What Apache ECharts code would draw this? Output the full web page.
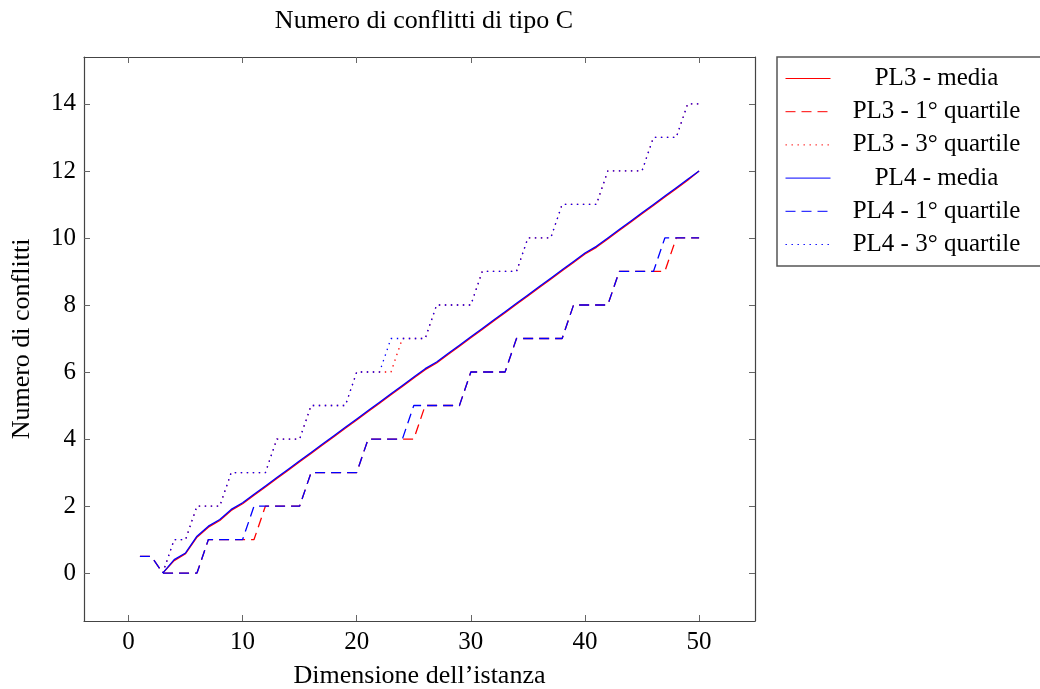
<!DOCTYPE html>
<html>
<head>
<meta charset="utf-8">
<script src="https://cdn.jsdelivr.net/npm/echarts@6/dist/echarts.min.js"></script>
<style>html,body{margin:0;padding:0;background:#fff;}#c{width:1040px;height:689px;}</style>
</head>
<body>
<div id="c"></div>
<script>
const xValues = [1,2,3,4,5,6,7,8,9,10,11,12,13,14,15,16,17,18,19,20,21,22,23,24,25,26,27,28,29,30,31,32,33,34,35,36,37,38,39,40,41,42,43,44,45,46,47,48,49,50];
const pl3Media = [null,null,0,0.37,0.58,1.07,1.37,1.57,1.87,2.07,2.32,2.57,2.82,3.07,3.32,3.57,3.82,4.07,4.32,4.57,4.82,5.07,5.32,5.57,5.82,6.07,6.27,6.52,6.77,7.02,7.27,7.52,7.77,8.02,8.27,8.52,8.77,9.02,9.27,9.52,9.72,9.97,10.22,10.47,10.72,10.97,11.22,11.47,11.72,12.0];
const pl3Q1 = [0.5,0.5,0,0,0,0,1,1,1,1,1,2,2,2,2,3,3,3,3,3,4,4,4,4,4,5,5,5,5,6,6,6,6,7,7,7,7,7,8,8,8,8,9,9,9,9,9,10,10,10];
const pl3Q3 = [null,null,0,1,1,2,2,2,3,3,3,3,4,4,4,5,5,5,5,6,6,6,6,7,7,7,8,8,8,8,9,9,9,9,10,10,10,11,11,11,11,12,12,12,12,13,13,13,14,14];
const pl4Media = [null,null,0,0.4,0.6,1.1,1.4,1.6,1.9,2.1,2.35,2.6,2.85,3.1,3.35,3.6,3.85,4.1,4.35,4.6,4.85,5.1,5.35,5.6,5.85,6.1,6.3,6.55,6.8,7.05,7.3,7.55,7.8,8.05,8.3,8.55,8.8,9.05,9.3,9.55,9.75,10.0,10.25,10.5,10.75,11.0,11.25,11.5,11.75,12.0];
const pl4Q1 = [0.5,0.5,0,0,0,0,1,1,1,1,2,2,2,2,2,3,3,3,3,3,4,4,4,4,5,5,5,5,5,6,6,6,6,7,7,7,7,7,8,8,8,8,9,9,9,9,10,10,10,10];
const pl4Q3 = [null,null,0,1,1,2,2,2,3,3,3,3,4,4,4,5,5,5,5,6,6,6,7,7,7,7,8,8,8,8,9,9,9,9,10,10,10,11,11,11,11,12,12,12,12,13,13,13,14,14];
const xTicks = [0,10,20,30,40,50];
const yTicks = [0,2,4,6,8,10,12,14];
const seriesNames = ['PL3 - media','PL3 - 1° quartile','PL3 - 3° quartile','PL4 - media','PL4 - 1° quartile','PL4 - 3° quartile'];

const FONT = 'Liberation Serif';
const RED = '#ff0000', BLUE = '#0000ff';
const pairs = arr => xValues.map((x,i) => [x, arr[i]]);
const dashed = [10, 6], dotted = [1.4, 4.6];
function mk(name, data, color, type) {
  return {
    name, type: 'line', data: pairs(data), symbol: 'none', showSymbol: false,
    lineStyle: { color, width: 1.3, type }, itemStyle: { color },
    connectNulls: false, animation: false, z: 3
  };
}
const XMIN = -3.9, XMAX = 54.9, YMIN = -1.43, YMAX = 15.4;
const axisCommon = {
  axisLine: { show: true, onZero: false, lineStyle: { color: '#444', width: 1.2 } },
  axisTick: { show: true, inside: true, length: 6, lineStyle: { color: '#666', width: 1 } },
  splitLine: { show: false }
};
const chart = echarts.init(document.getElementById('c'), null, { renderer: 'canvas' });
chart.setOption({
  animation: false,
  backgroundColor: '#fff',
  title: {
    text: 'Numero di conflitti di tipo C', left: 419, top: 3, textAlign: 'center',
    textStyle: { fontFamily: FONT, fontSize: 26, fontWeight: 'normal', color: '#000' }
  },
  grid: { left: 84, right: 285, top: 57, bottom: 68, containLabel: false, outerBoundsMode: 'none' },
  xAxis: [
    Object.assign({}, axisCommon, {
      type: 'value', min: XMIN, max: XMAX, position: 'bottom',
      axisTick: Object.assign({}, axisCommon.axisTick, { customValues: xTicks }),
      axisLabel: { customValues: xTicks, margin: 9, fontFamily: FONT, fontSize: 25, color: '#000' },
      name: 'Dimensione dell\u2019istanza', nameLocation: 'middle', nameGap: 42,
      nameTextStyle: { fontFamily: FONT, fontSize: 26, color: '#000' }
    }),
    Object.assign({}, axisCommon, {
      type: 'value', min: XMIN, max: XMAX, position: 'top',
      axisTick: Object.assign({}, axisCommon.axisTick, { customValues: xTicks }),
      axisLabel: { show: false }
    })
  ],
  yAxis: [
    Object.assign({}, axisCommon, {
      type: 'value', min: YMIN, max: YMAX, position: 'left',
      axisTick: Object.assign({}, axisCommon.axisTick, { customValues: yTicks }),
      axisLabel: { customValues: yTicks, margin: 8, fontFamily: FONT, fontSize: 25, color: '#000' },
      name: 'Numero di conflitti', nameLocation: 'middle', nameGap: 49, nameRotate: 90,
      nameTextStyle: { fontFamily: FONT, fontSize: 26, color: '#000' }
    }),
    Object.assign({}, axisCommon, {
      type: 'value', min: YMIN, max: YMAX, position: 'right',
      axisTick: Object.assign({}, axisCommon.axisTick, { customValues: yTicks }),
      axisLabel: { show: false }
    })
  ],
  legend: {
    orient: 'vertical', left: 777, top: 57,
    data: seriesNames,
    itemWidth: 45, itemHeight: 10, itemGap: 8.2,
    itemStyle: { opacity: 0 },
    lineStyle: { width: 1 },
    padding: [9, 8, 9, 8],
    borderColor: '#555', borderWidth: 1.5, backgroundColor: '#fff',
    formatter: n => '{t|' + n + '}',
    textStyle: {
      fontFamily: FONT, fontSize: 25, color: '#000',
      rich: { t: { width: 196, align: 'center', fontFamily: FONT, fontSize: 25, lineHeight: 26, padding: [0,0,0,3] } }
    }
  },
  series: [
    mk(seriesNames[0], pl3Media, RED, 'solid'),
    mk(seriesNames[1], pl3Q1, RED, dashed),
    mk(seriesNames[2], pl3Q3, RED, dotted),
    mk(seriesNames[3], pl4Media, BLUE, 'solid'),
    mk(seriesNames[4], pl4Q1, BLUE, dashed),
    mk(seriesNames[5], pl4Q3, BLUE, dotted)
  ]
});
</script>
</body>
</html>
